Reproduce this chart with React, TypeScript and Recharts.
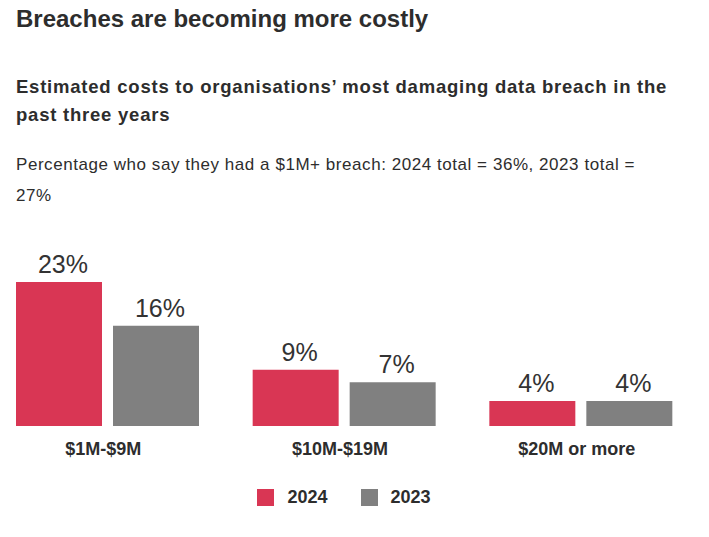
import { BarChart, Bar, XAxis, YAxis, Legend, LabelList } from "recharts";

const categories = ["$1M-$9M", "$10M-$19M", "$20M or more"];
const values2024 = [23, 9, 4];
const values2023 = [16, 7, 4];
const seriesNames = ["2024", "2023"];

const RED = "#d93654";
const GREY = "#808080";
const TEXT = "#2d2d2d";
const FONT = '"Liberation Sans", Arial, Helvetica, sans-serif';

const data = categories.map((c, i) => ({
  category: c,
  [seriesNames[0]]: values2024[i],
  [seriesNames[1]]: values2023[i],
}));

function LegendContent() {
  const items = [
    { name: seriesNames[0], color: RED },
    { name: seriesNames[1], color: GREY },
  ];
  return (
    <div style={{ display: "flex", justifyContent: "center", alignItems: "center", fontFamily: FONT }}>
      {items.map((it, i) => (
        <div key={it.name} style={{ display: "flex", alignItems: "center", marginLeft: i ? 33 : 0 }}>
          <span style={{ width: 17, height: 17, background: it.color, display: "inline-block" }} />
          <span style={{ marginLeft: 13, fontSize: 18, fontWeight: 700, color: TEXT, lineHeight: "17px" }}>{it.name}</span>
        </div>
      ))}
    </div>
  );
}

// value label above each bar, nudged a little right like the original
function ValueLabel(props: any) {
  const { x, y, width, value } = props;
  return (
    <text x={x + width / 2 + 4} y={y - 9} textAnchor="middle" fontSize={25} fill="#333" fontFamily={FONT}>
      {`${value}%`}
    </text>
  );
}

export default function App() {
  return (
    <div style={{ position: "absolute", left: 0, top: 0, width: 709, height: 537, background: "#fff", fontFamily: FONT, color: TEXT }}>
      <div style={{ position: "absolute", left: 16, top: 7, fontSize: 24, lineHeight: "24px", fontWeight: 700 }}>
        Breaches are becoming more costly
      </div>
      <div style={{ position: "absolute", left: 16, top: 73, fontSize: 18.5, lineHeight: "28px", fontWeight: 700, letterSpacing: 0.77, whiteSpace: "nowrap" }}>
        Estimated costs to organisations’ most damaging data breach in the
        <br />
        past three years
      </div>
      <div style={{ position: "absolute", left: 16, top: 150, fontSize: 17, lineHeight: "30.5px", letterSpacing: 0.55, whiteSpace: "nowrap" }}>
        Percentage who say they had a $1M+ breach: 2024 total = 36%, 2023 total =
        <br />
        27%
      </div>
      <div style={{ position: "absolute", left: -11, top: 0 }}>
        <BarChart width={710} height={537} data={data} margin={{ top: 282, right: 0, bottom: 81, left: 0 }} barSize={86} barGap={11}>
          <XAxis
            dataKey="category"
            axisLine={false}
            tickLine={false}
            height={30}
            tickMargin={10}
            tick={{ fontSize: 18, fontWeight: 700, fill: TEXT, fontFamily: FONT, dx: -4 }}
          />
          <YAxis hide domain={[0, 23]} />
          <Legend verticalAlign="middle" align="center" wrapperStyle={{ top: 489 }} content={<LegendContent />} />
          <Bar dataKey={seriesNames[0]} fill={RED} isAnimationActive={false}>
            <LabelList dataKey={seriesNames[0]} content={<ValueLabel />} />
          </Bar>
          <Bar dataKey={seriesNames[1]} fill={GREY} isAnimationActive={false}>
            <LabelList dataKey={seriesNames[1]} content={<ValueLabel />} />
          </Bar>
        </BarChart>
      </div>
    </div>
  );
}
